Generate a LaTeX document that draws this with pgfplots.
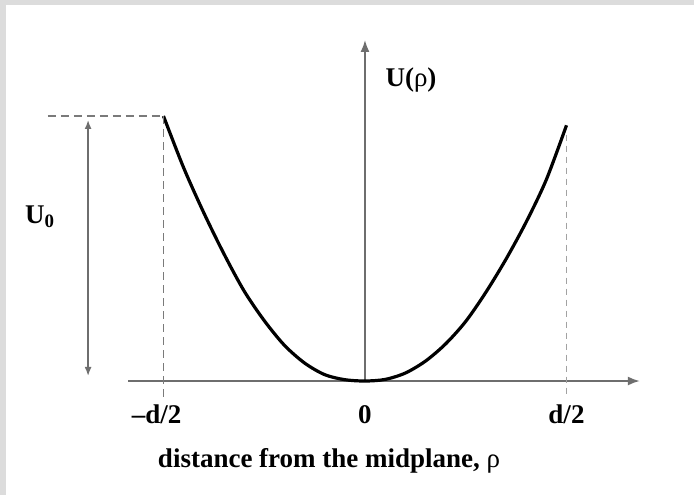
\documentclass[border=0pt]{standalone}
\usepackage{pgfplots}
\pgfplotsset{compat=1.18}
\usepackage{fontspec}
\setmainfont{Liberation Serif}
\usetikzlibrary{arrows.meta}

\definecolor{frame}{HTML}{DCDCDC}
\definecolor{axisgray}{HTML}{6E6E6E}
\definecolor{dashgray}{HTML}{7A7A7A}

\newcommand{\lbl}{\bfseries\fontsize{13.5}{16}\selectfont}

\begin{document}
\begin{tikzpicture}
  % page background with a light frame on the top and left edges
  \fill[frame] (0,0) rectangle (347pt,247.5pt);
  \fill[white] (3pt,0) rectangle (347pt,245pt);

  \begin{axis}[
    x=201.5pt, y=132.5pt,
    anchor=south west, at={(64pt,57pt)},
    xmin=-0.588, xmax=0.682,
    ymin=0, ymax=1.287,
    enlargelimits=false,
    axis lines=middle,
    axis line style={axisgray, line width=0.9pt, -{Latex[length=6pt,width=4.5pt]}},
    hide obscured x ticks=false,
    xtick={-0.5,0,0.5},
    xticklabels={{\llap{\textendash}d/2},{0},{d/2}},
    xticklabel style={font=\lbl, anchor=base, yshift=-21pt},
    ytick=\empty,
    major tick length=0pt,
    clip=false,
  ]
    % potential across the slab, U in units of U0, rho in units of d
    \addplot[black, line width=1.6pt, smooth, tension=0.5] coordinates {
      (-0.50,1.000) (-0.45,0.805) (-0.40,0.635) (-0.35,0.480)
      (-0.30,0.340) (-0.25,0.228) (-0.20,0.135) (-0.15,0.068)
      (-0.10,0.024) (-0.05,0.005) (0.00,0.000) (0.05,0.006)
      (0.10,0.030) (0.15,0.075) (0.20,0.140) (0.25,0.225)
      (0.30,0.335) (0.35,0.460) (0.40,0.600) (0.45,0.760)
      (0.50,0.965)
    };

    % guide lines at the slab edges
    \addplot[dashgray, line width=0.7pt, dash pattern=on 4pt off 2.5pt]
      coordinates {(-0.787,1) (-0.5,1)};
    \addplot[dashgray, line width=0.7pt, dash pattern=on 4pt off 2.5pt]
      coordinates {(-0.5,1) (-0.5,-0.064)};
    \addplot[dashgray!70, line width=0.8pt, dash pattern=on 3pt off 2.5pt]
      coordinates {(0.5,0.93) (0.5,-0.064)};

    % barrier height
    \addplot[axisgray, line width=0.8pt,
      {Latex[length=4.5pt,width=3.5pt]}-{Latex[length=4.5pt,width=3.5pt]}]
      coordinates {(-0.687,0.985) (-0.687,0.019)};

    \node[font=\lbl, inner sep=0pt] at (axis cs:-0.806,0.619) {U$_{\mathbf 0}$};
    \node[font=\lbl, inner sep=0pt, anchor=west] at (axis cs:0.05,1.136)
      {U(\textnormal{\fontsize{13.5}{16}\selectfont ρ})};
    \node[font=\lbl, inner sep=0pt, anchor=base] at (axis cs:-0.089,-0.325)
      {distance from the midplane, \textnormal{\fontsize{13.5}{16}\selectfont ρ}};
  \end{axis}
\end{tikzpicture}
\end{document}
